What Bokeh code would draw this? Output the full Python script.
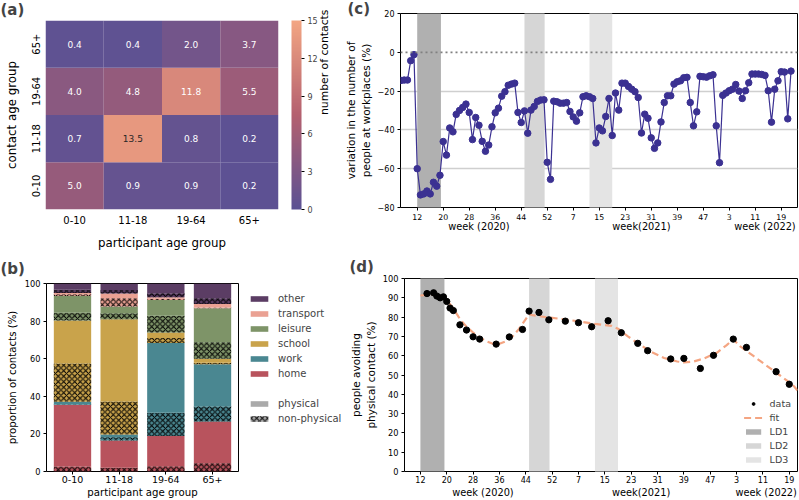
import math
from bokeh.plotting import figure
from bokeh.models import (ColumnDataSource, LinearColorMapper, ColorBar, FixedTicker,
                          Legend, LegendItem, LinearAxis, Range1d, Span)
from bokeh.layouts import row, column
from bokeh.embed import file_html
from bokeh.resources import INLINE
from bokeh.core.properties import value

FONT = "DejaVu Sans"

# ---------------- panel (a): contact matrix ----------------
age_groups = ["0-10", "11-18", "19-64", "65+"]
# number of contacts with each contact age group, per participant age group
contacts_with_0_10 = [5.0, 0.9, 0.9, 0.2]
contacts_with_11_18 = [0.7, 13.5, 0.8, 0.2]
contacts_with_19_64 = [4.0, 4.8, 11.8, 5.5]
contacts_with_65p = [0.4, 0.4, 2.0, 3.7]
colorbar_ticks = [0, 3, 6, 9, 12, 15]

# ---------------- panel (b): setting of contacts (%) ----------------
home_nonphys = [2.6, 2.0, 2.8, 4.4]
home_phys = [32.8, 14.5, 16.1, 22.2]
work_nonphys = [0.3, 1.7, 12.3, 8.1]
work_phys = [1.4, 1.5, 37.2, 22.3]
school_nonphys = [20.4, 17.5, 2.6, 0.8]
school_phys = [22.8, 43.8, 3.0, 2.2]
leisure_nonphys = [4.2, 3.2, 8.8, 8.7]
leisure_phys = [8.8, 3.5, 8.4, 18.1]
transport_nonphys = [1.0, 4.4, 0.7, 0.5]
transport_phys = [0.6, 2.6, 0.8, 1.8]
other_nonphys = [1.8, 1.8, 2.1, 3.0]
other_phys = [3.3, 3.5, 5.2, 7.9]

# ---------------- panel (c): workplace mobility (weekly) ----------------
# week index counted continuously from 2020 (2020 has 53 weeks)
mob_weeks = list(range(7, 128))
mob_values = [
    -14.5, -14.3, -14.3, -4.3, -1.2, -60.0, -73.5, -73.0, -71.5, -73.0,
    -67.0, -69.0, -63.4, -46.0, -53.0, -39.0, -41.0, -32.0, -30.0, -28.4,
    -26.7, -31.0, -45.0, -33.6, -37.6, -45.9, -51.0, -47.8, -38.4, -31.2,
    -28.8, -22.6, -20.3, -17.0, -16.4, -15.9, -31.0, -36.2, -30.2, -41.7,
    -29.8, -27.9, -25.3, -24.6, -24.5, -56.7, -65.5, -25.2, -25.5, -26.2,
    -26.2, -25.9, -30.5, -33.3, -35.5, -31.2, -22.9, -22.4, -22.9, -23.8,
    -46.7, -39.0, -40.5, -33.1, -23.8, -42.9, -21.0, -29.8, -15.9, -15.9,
    -17.6, -19.0, -20.3, -23.3, -41.6, -31.9, -34.0, -44.1, -49.5, -46.7,
    -35.9, -25.9, -22.4, -22.4, -16.4, -15.2, -14.7, -13.1, -12.9, -25.9,
    -37.9, -30.7, -12.4, -12.6, -12.8, -12.1, -11.6, -37.9, -56.9, -22.2,
    -21.0, -19.8, -19.0, -16.6, -20.0, -23.8, -19.8, -15.7, -11.2, -11.2,
    -11.2, -11.4, -11.9, -19.8, -36.0, -19.0, -14.7, -10.0, -10.2, -34.3,
    -9.7,
]

# ---------------- panel (d): people avoiding physical contact ----------------
avoid_weeks = [14, 16, 17, 18, 19, 20, 21, 22, 24, 26, 28, 30, 35, 39, 43, 45, 48,
               51, 56, 60, 64, 69, 73, 78, 81, 88, 92, 97, 101, 107, 111, 120, 124]
avoid_values = [92.2, 92.6, 90.9, 90.0, 90.5, 88.1, 84.7, 83.4, 76.0, 73.3, 69.8,
                68.6, 66.0, 69.7, 73.6, 83.1, 82.4, 78.6, 77.9, 77.1, 75.0, 78.1,
                71.9, 66.4, 62.6, 58.3, 58.6, 53.4, 60.2, 68.6, 64.3, 51.7, 45.2]
fit_weeks = [12, 14, 16, 18, 19.4, 20, 22, 24, 26, 28, 30, 32, 34, 35, 36, 38, 40,
             42, 44, 45, 46, 50, 55, 60, 65, 70, 72, 75, 78, 82, 86, 90, 92, 95,
             98, 102, 105, 107, 109, 113, 117, 121, 125, 127]
fit_values = [91.2, 91.5, 91.5, 91.3, 90.8, 89.0, 84.5, 79.0, 75.0, 72.0, 69.5,
              67.5, 66.2, 66.0, 66.2, 67.5, 70.0, 74.0, 79.0, 81.5, 81.0, 80.0,
              79.0, 77.8, 76.5, 75.5, 74.0, 70.0, 66.5, 62.0, 58.8, 57.0, 56.5,
              57.0, 58.5, 61.5, 65.5, 68.5, 65.0, 60.0, 55.0, 50.0, 45.0, 41.0]

# lockdown periods (week index)
lockdowns = ["LD1", "LD2", "LD3"]
ld_start = [12.0, 45.0, 65.0]
ld_end = [19.3, 51.2, 72.0]

week_ticks = [12, 20, 28, 36, 44, 52, 60, 68, 76, 84, 92, 100, 108, 116, 124]
week_labels = ["12", "20", "28", "36", "44", "52", "7", "15", "23", "31", "39",
               "47", "3", "11", "19"]
year_labels = ["week (2020)", "week(2021)", "week (2022)"]
year_label_pos_c = [31, 81, 119]
year_label_pos_d = [31, 79, 117]

# ---------------- styles ----------------
CAT_COLORS = {"home": "#b8535d", "work": "#4a8791", "school": "#c9a34b",
              "leisure": "#7e9468", "transport": "#eaa193", "other": "#5b3d64"}
LD_COLORS = ["#b0b0b0", "#d6d6d6", "#e4e4e4"]
LINE_C = "#3b3192"
FIT_C = "#f4a582"


def no_align(p):
    try:
        p.frame_align = False
    except Exception:
        pass


def style_axis(ax, tick_size, label_size, tick_len=3):
    ax.major_label_text_font = FONT
    ax.major_label_text_font_size = tick_size
    ax.major_label_text_color = "black"
    ax.axis_label_text_font = FONT
    ax.axis_label_text_font_size = label_size
    ax.axis_label_text_font_style = "normal"
    ax.axis_label_text_color = "black"
    ax.axis_line_color = None
    ax.minor_tick_line_color = None
    ax.major_tick_in = 0
    ax.major_tick_out = tick_len
    ax.major_tick_line_color = "black" if tick_len > 0 else None


def panel_title(p, text, offset, valign, standoff):
    p.title.text = text
    p.title.text_font = FONT
    p.title.text_font_size = "15px"
    p.title.text_font_style = "bold"
    p.title.align = "left"
    p.title.offset = offset
    p.title.vertical_align = valign
    p.title.standoff = standoff


def year_axis(p, positions, standoff):
    ax = LinearAxis(ticker=FixedTicker(ticks=positions),
                    major_label_overrides={t: l for t, l in zip(positions, year_labels)})
    style_axis(ax, "9.8px", "9.8px", tick_len=0)
    ax.major_label_standoff = standoff
    p.add_layout(ax, "below")


# ================= (a) =================
anchors = [(0.0, (91, 81, 148)), (0.5, (180, 96, 111)), (1.0, (243, 166, 131))]
palette = []
for i in range(256):
    t = i / 255
    for (t0, c0), (t1, c1) in zip(anchors[:-1], anchors[1:]):
        if t0 <= t <= t1:
            u = (t - t0) / (t1 - t0)
            c = tuple(int(round(a + (b - a) * u)) for a, b in zip(c0, c1))
            palette.append("#%02x%02x%02x" % c)
            break
mapper = LinearColorMapper(palette=palette, low=0, high=15)

rows_a = [contacts_with_0_10, contacts_with_11_18, contacts_with_19_64,
          contacts_with_65p]
xa, ya, va, ta, ca = [], [], [], [], []
for ci, arr in enumerate(rows_a):
    for pi, v in enumerate(arr):
        xa.append(pi); ya.append(ci); va.append(v)
        ta.append("%.1f" % v)
        ca.append("#262626" if v > 12.5 else "white")
src_a = ColumnDataSource(dict(x=xa, y=ya, v=va, t=ta, c=ca))

pa = figure(x_range=Range1d(-0.5, 3.5), y_range=Range1d(-0.5, 3.5), width=340,
            height=252, min_border_left=45, min_border_right=60,
            min_border_top=20, min_border_bottom=42, output_backend="svg",
            toolbar_location=None)
no_align(pa)
pa.outline_line_color = None
pa.xgrid.visible = False
pa.ygrid.visible = False
pa.rect(x="x", y="y", width=1, height=1, source=src_a,
        fill_color={"field": "v", "transform": mapper}, line_color=None)
pa.text(x="x", y="y", text="t", source=src_a, text_color="c",
        text_align="center", text_baseline="middle", text_font_size="9px",
        text_font=value(FONT))
style_axis(pa.xaxis[0], "10px", "11.8px", tick_len=0)
style_axis(pa.yaxis[0], "10px", "11.8px", tick_len=0)
ag_over = {i: g for i, g in enumerate(age_groups)}
pa.xaxis.ticker = FixedTicker(ticks=[0, 1, 2, 3])
pa.yaxis.ticker = FixedTicker(ticks=[0, 1, 2, 3])
pa.xaxis.major_label_overrides = ag_over
pa.yaxis.major_label_overrides = ag_over
pa.xaxis.axis_label = "participant age group"
pa.yaxis.axis_label = "contact age group"
pa.xaxis.major_label_standoff = 6
pa.xaxis.axis_label_standoff = 9
pa.yaxis.major_label_standoff = 6
pa.yaxis.axis_label_standoff = 10
pa.yaxis.major_label_orientation = "vertical"

pa.extra_y_ranges = {"cb": Range1d(0, 15)}
spacer = LinearAxis(y_range_name="cb", ticker=FixedTicker(ticks=[]), axis_label=" ")
style_axis(spacer, "1px", "1px", tick_len=0)
spacer.axis_label_standoff = 9
pa.add_layout(spacer, "right")
cb = ColorBar(color_mapper=mapper, ticker=FixedTicker(ticks=colorbar_ticks),
              width=10, padding=0, margin=0, major_tick_out=3, major_tick_in=0,
              major_tick_line_color="black", major_label_text_font_size="8px",
              major_label_text_font=FONT, bar_line_color=None,
              border_line_color=None, background_fill_alpha=0, label_standoff=3)
pa.add_layout(cb, "right")
cb_ax = LinearAxis(y_range_name="cb", axis_label="number of contacts",
                   ticker=FixedTicker(ticks=[]), bounds=(0, 6.6))
style_axis(cb_ax, "1px", "10.8px", tick_len=0)
cb_ax.axis_label_standoff = 4
try:
    cb_ax.axis_label_orientation = math.pi / 2
except Exception:
    pass
pa.add_layout(cb_ax, "right")
panel_title(pa, "(a)", -45, "top", 0)

# ================= (c) =================
pc = figure(width=459, height=252, x_range=Range1d(6.86, 129.0),
            y_range=Range1d(-80, 20), min_border_left=60, min_border_right=2,
            min_border_top=13, min_border_bottom=45, output_backend="svg",
            toolbar_location=None)
no_align(pc)
pc.outline_line_color = "black"
pc.xgrid.visible = False
pc.ygrid.ticker = FixedTicker(ticks=[-60, -40, -20])
pc.ygrid.grid_line_color = "#cfcfcf"
pc.ygrid.grid_line_width = 1.5
for s, e, col in zip(ld_start, ld_end, LD_COLORS):
    pc.quad(left=[s], right=[e], bottom=[-500], top=[500], fill_color=col,
            line_color=None)
pc.add_layout(Span(location=0, dimension="width", line_color="#808080",
                   line_dash="2 3", line_width=1.8))
pc.line(mob_weeks, mob_values, line_color=LINE_C, line_width=1.2)
pc.scatter(mob_weeks, mob_values, size=6.5, fill_color=LINE_C, line_color=LINE_C)
style_axis(pc.xaxis[0], "7.8px", "10.5px")
style_axis(pc.yaxis[0], "8px", "10.5px")
pc.xaxis.ticker = FixedTicker(ticks=week_ticks)
pc.xaxis.major_label_overrides = {t: l for t, l in zip(week_ticks, week_labels)}
pc.xaxis.major_label_standoff = 3
pc.yaxis.ticker = FixedTicker(ticks=[-80, -60, -40, -20, 0, 20])
pc.yaxis.major_label_overrides = {-80: "\u221280", -60: "\u221260",
                                  -40: "\u221240", -20: "\u221220", 0: "0", 20: "20"}
pc.yaxis.major_label_standoff = 3
pc.yaxis.axis_label = "variation in the number of\npeople at workplaces (%)"
pc.yaxis.axis_label_standoff = 3
year_axis(pc, year_label_pos_c, -2)
panel_title(pc, "(c)", -53, "middle", -11)

# ================= (b) =================
pb = figure(width=239, height=248, x_range=Range1d(-0.557, 3.557),
            y_range=Range1d(0, 100), min_border_left=46, min_border_right=1,
            min_border_top=31, min_border_bottom=26, output_backend="svg",
            toolbar_location=None)
no_align(pb)
pb.outline_line_color = "black"
pb.xgrid.visible = False
pb.ygrid.visible = False
xs = [0, 1, 2, 3]
cats = [("home", home_nonphys, home_phys), ("work", work_nonphys, work_phys),
        ("school", school_nonphys, school_phys),
        ("leisure", leisure_nonphys, leisure_phys),
        ("transport", transport_nonphys, transport_phys),
        ("other", other_nonphys, other_phys)]
bottom = [0.0] * 4
HATCH = dict(hatch_pattern="diagonal_cross", hatch_color="black", hatch_scale=5.5,
             hatch_weight=1.0)
for name, npv, pv in cats:
    top = [b + v for b, v in zip(bottom, npv)]
    pb.vbar(x=xs, bottom=bottom, top=top, width=0.8, fill_color=CAT_COLORS[name],
            line_color=None, **HATCH)
    bottom = top
    top = [b + v for b, v in zip(bottom, pv)]
    pb.vbar(x=xs, bottom=bottom, top=top, width=0.8, fill_color=CAT_COLORS[name],
            line_color=None)
    bottom = top
style_axis(pb.xaxis[0], "9.5px", "10.2px")
style_axis(pb.yaxis[0], "8.2px", "10.2px")
pb.xaxis.ticker = FixedTicker(ticks=xs)
pb.xaxis.major_label_overrides = {i: g for i, g in enumerate(age_groups)}
pb.xaxis.major_label_standoff = 1
pb.xaxis.axis_label = "participant age group"
pb.xaxis.axis_label_standoff = 1
pb.yaxis.ticker = FixedTicker(ticks=[0, 20, 40, 60, 80, 100])
pb.yaxis.major_label_standoff = 3
pb.yaxis.axis_label = "proportion of contacts (%)"
pb.yaxis.axis_label_standoff = 4
panel_title(pb, "(b)", -46, "middle", 10)

# legend of (b), in its own small canvas (legend swatches sit outside its range)
pl = figure(width=108, height=248, x_range=Range1d(0, 1), y_range=Range1d(0, 1),
            x_axis_type=None, y_axis_type=None, min_border_left=9,
            min_border_right=0, min_border_top=40, min_border_bottom=0,
            output_backend="svg", toolbar_location=None)
no_align(pl)
pl.outline_line_color = None
pl.xgrid.visible = False
pl.ygrid.visible = False
leg_items = []
for name in ["other", "transport", "leisure", "school", "work", "home"]:
    r = pl.vbar(x=[10], top=[1], width=0.8, fill_color=CAT_COLORS[name],
                line_color=None)
    leg_items.append(LegendItem(label=name, renderers=[r]))
r_blank = pl.vbar(x=[10], top=[1], width=0.8, fill_alpha=0, line_alpha=0)
r_phys = pl.vbar(x=[10], top=[1], width=0.8, fill_color="#aaaaaa", line_color=None)
r_nonphys = pl.vbar(x=[10], top=[1], width=0.8, fill_color="#aaaaaa",
                    line_color=None, **HATCH)
leg_items += [LegendItem(label=" ", renderers=[r_blank]),
              LegendItem(label="physical", renderers=[r_phys]),
              LegendItem(label="non-physical", renderers=[r_nonphys])]
leg_b = Legend(items=leg_items, location="top_left", border_line_color=None,
               background_fill_alpha=0, label_text_font=FONT,
               label_text_font_size="10px", glyph_width=22, glyph_height=7,
               label_height=12, spacing=3, padding=0, margin=0,
               label_standoff=8)
pl.add_layout(leg_b)

# ================= (d) =================
pd_ = figure(width=452, height=248, x_range=Range1d(7.17, 126.5),
             y_range=Range1d(0, 100), min_border_left=55, min_border_right=2,
             min_border_top=26, min_border_bottom=28, output_backend="svg",
             toolbar_location=None)
no_align(pd_)
pd_.outline_line_color = "black"
pd_.xgrid.visible = False
pd_.ygrid.visible = False
ld_renderers = []
for s, e, col in zip(ld_start, ld_end, LD_COLORS):
    ld_renderers.append(pd_.quad(left=[s], right=[e], bottom=[-500], top=[500],
                                 fill_color=col, line_color=None))
r_fit = pd_.line(fit_weeks, fit_values, line_color=FIT_C, line_width=2.2,
                 line_dash="7 4")
r_data = pd_.scatter(avoid_weeks, avoid_values, size=6.3, fill_color="black",
                     line_color="black")
d_items = [LegendItem(label="data", renderers=[r_data]),
           LegendItem(label="fit", renderers=[r_fit])]
d_items += [LegendItem(label=l, renderers=[r]) for l, r in zip(lockdowns, ld_renderers)]
leg_d = Legend(items=d_items, location="bottom_right", border_line_color=None,
               background_fill_alpha=0, label_text_font=FONT,
               label_text_font_size="9.5px", glyph_width=19, glyph_height=7,
               label_height=10, spacing=3, padding=3, margin=6,
               label_standoff=7)
pd_.add_layout(leg_d)
style_axis(pd_.xaxis[0], "8px", "10.5px")
style_axis(pd_.yaxis[0], "8.2px", "10.5px")
pd_.xaxis.ticker = FixedTicker(ticks=week_ticks)
pd_.xaxis.major_label_overrides = {t: l for t, l in zip(week_ticks, week_labels)}
pd_.xaxis.major_label_standoff = 1
pd_.yaxis.ticker = FixedTicker(ticks=list(range(0, 101, 10)))
pd_.yaxis.major_label_standoff = 3
pd_.yaxis.axis_label = "people avoiding\nphysical contact (%)"
pd_.yaxis.axis_label_standoff = 3
year_axis(pd_, year_label_pos_d, 1)
panel_title(pd_, "(d)", -55, "middle", 4)

layout = column(row(pa, pc), row(pb, pl, pd_))
open("out.html", "w").write(file_html(layout, INLINE))
